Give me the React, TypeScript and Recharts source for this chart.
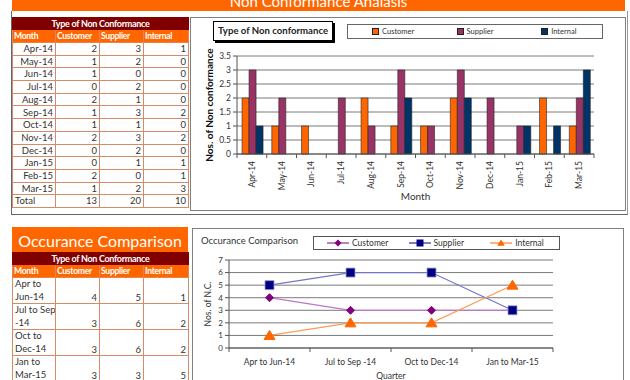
import React from "react";
import { BarChart, Bar, LineChart, Line, XAxis, YAxis, CartesianGrid, Label } from "recharts";

// ── Data ──────────────────────────────────────────────────────────────────────

const months = ["Apr-14", "May-14", "Jun-14", "Jul-14", "Aug-14", "Sep-14", "Oct-14", "Nov-14", "Dec-14", "Jan-15", "Feb-15", "Mar-15"];
const customerByMonth = [2, 1, 1, 0, 2, 1, 1, 2, 0, 0, 2, 1];
const supplierByMonth = [3, 2, 0, 2, 1, 3, 1, 3, 2, 1, 0, 2];
const internalByMonth = [1, 0, 0, 0, 0, 2, 0, 2, 0, 1, 1, 3];
const monthTicks = [0, 0.5, 1, 1.5, 2, 2.5, 3, 3.5];

const quarters = ["Apr to Jun-14", "Jul to Sep -14", "Oct to Dec-14", "Jan to Mar-15"];
const quarterRowLabels = [["Apr to", "Jun-14"], ["Jul to Sep", "-14"], ["Oct to", "Dec-14"], ["Jan to", "Mar-15"]];
const customerByQuarter = [4, 3, 3, 3];
const supplierByQuarter = [5, 6, 6, 3];
const internalByQuarter = [1, 2, 2, 5];
const quarterTicks = [0, 1, 2, 3, 4, 5, 6, 7];

const seriesNames = ["Customer", "Supplier", "Internal"];

// ── Styling ───────────────────────────────────────────────────────────────────

const ORANGE = "#FF6600";
const MAROON = "#800000";
const BAR_COLORS = ["#FF6600", "#993366", "#003366"];
const LINE_COLORS = ["#bb77cc", "#7474c8", "#ff9a55"];
const MARKER_COLORS = ["#800080", "#000080", "#FF6600"];
const FONT = "Lato, 'Open Sans', sans-serif";
const CELL_BORDER = "1px solid #d58c66";

const barData = months.map((m, i) => ({
    month: m,
    customer: customerByMonth[i],
    supplier: supplierByMonth[i],
    internal: internalByMonth[i],
}));

const lineData = quarters.map((q, i) => ({
    quarter: q,
    customer: customerByQuarter[i],
    supplier: supplierByQuarter[i],
    internal: internalByQuarter[i],
}));

const sum = (a: number[]) => a.reduce((s, v) => s + v, 0);

// chart geometry
const BAR_W = 434;
const BAR_H = 192;
const BAR_MARGIN = { top: 38, right: 31, left: 0, bottom: 0 };
const BAR_YW = 46;
const BAR_BAND = (BAR_W - BAR_MARGIN.left - BAR_MARGIN.right - BAR_YW) / months.length;

const LINE_W = 430;
const LINE_H = 151;
const LINE_MARGIN = { top: 31, right: 70, left: 0, bottom: 0 };
const LINE_YW = 36;
const LINE_BAND = (LINE_W - LINE_MARGIN.left - LINE_MARGIN.right - LINE_YW) / quarters.length;

// ── Ticks & markers ───────────────────────────────────────────────────────────

function MonthTick(props: any) {
    const { x, y, payload, index } = props;
    return (
        <g transform={`translate(${x},${y})`}>
            <line x1={-BAR_BAND / 2} x2={-BAR_BAND / 2} y1={-6} y2={-2} stroke="#555" />
            {index === months.length - 1 && (
                <line x1={BAR_BAND / 2} x2={BAR_BAND / 2} y1={-6} y2={-2} stroke="#555" />
            )}
            <text x={-1} y={0} dy="0.35em" textAnchor="end" transform="rotate(-90)" fontSize={8.5} fill="#333" fontFamily={FONT}>
                {payload.value}
            </text>
        </g>
    );
}

function QuarterTick(props: any) {
    const { x, y, payload, index } = props;
    return (
        <g transform={`translate(${x},${y})`}>
            <line x1={-LINE_BAND / 2} x2={-LINE_BAND / 2} y1={-6} y2={-2} stroke="#555" />
            {index === quarters.length - 1 && (
                <line x1={LINE_BAND / 2} x2={LINE_BAND / 2} y1={-6} y2={-2} stroke="#555" />
            )}
            <text x={0} y={11} textAnchor="middle" fontSize={8.5} fill="#333" fontFamily={FONT}>
                {payload.value}
            </text>
        </g>
    );
}

function diamondPath(cx: number, cy: number, r: number) {
    return `M${cx},${cy - r}L${cx + r},${cy}L${cx},${cy + r}L${cx - r},${cy}Z`;
}
function squarePath(cx: number, cy: number, r: number) {
    return `M${cx - r},${cy - r}H${cx + r}V${cy + r}H${cx - r}Z`;
}
function trianglePath(cx: number, cy: number, r: number) {
    return `M${cx},${cy - r}L${cx + r * 1.1},${cy + r * 0.8}L${cx - r * 1.1},${cy + r * 0.8}Z`;
}

function DiamondDot(props: any) {
    const { cx, cy, index } = props;
    return <path key={`c${index}`} d={diamondPath(cx, cy, 4)} fill={MARKER_COLORS[0]} stroke={MARKER_COLORS[0]} />;
}
function SquareDot(props: any) {
    const { cx, cy, index } = props;
    return <path key={`s${index}`} d={squarePath(cx, cy, 4.5)} fill={MARKER_COLORS[1]} stroke="#9a9ad6" strokeWidth={0.8} />;
}
function TriangleDot(props: any) {
    const { cx, cy, index } = props;
    return <path key={`i${index}`} d={trianglePath(cx, cy, 5)} fill={MARKER_COLORS[2]} stroke={MARKER_COLORS[2]} />;
}

// ── Tables ────────────────────────────────────────────────────────────────────

const cellBase: React.CSSProperties = {
    border: CELL_BORDER,
    padding: "0 2px",
    color: "#333",
    fontSize: 9.5,
    lineHeight: 1,
    whiteSpace: "nowrap",
    overflow: "hidden",
};

function TableHead() {
    const hd: React.CSSProperties = {
        ...cellBase,
        color: "#fff",
        fontWeight: 700,
        background: ORANGE,
        textAlign: "left",
        fontSize: 8.6,
        letterSpacing: -0.3,
        padding: "0 1px",
        border: "1px solid #e8834a",
    };
    return (
        <>
            <tr style={{ height: 12 }}>
                <td colSpan={4} style={{ ...hd, background: MAROON, textAlign: "center", fontSize: 9, border: `1px solid ${MAROON}` }}>
                    Type of Non Conformance
                </td>
            </tr>
            <tr style={{ height: 13 }}>
                <td style={hd}>Month</td>
                {seriesNames.map((s) => (
                    <td key={s} style={hd}>{s}</td>
                ))}
            </tr>
        </>
    );
}

const tableStyle: React.CSSProperties = {
    borderCollapse: "collapse",
    tableLayout: "fixed",
    width: 176,
    fontFamily: FONT,
    background: "#fff",
};

function MonthlyTable() {
    const num: React.CSSProperties = { ...cellBase, textAlign: "right" };
    return (
        <table style={{ ...tableStyle, position: "absolute", left: 12, top: 17 }}>
            <colgroup>
                <col style={{ width: 43 }} />
                <col style={{ width: 44 }} />
                <col style={{ width: 44 }} />
                <col style={{ width: 45 }} />
            </colgroup>
            <tbody>
                <TableHead />
                {months.map((m, i) => (
                    <tr key={m} style={{ height: 12.7 }}>
                        <td style={num}>{m}</td>
                        <td style={num}>{customerByMonth[i]}</td>
                        <td style={num}>{supplierByMonth[i]}</td>
                        <td style={num}>{internalByMonth[i]}</td>
                    </tr>
                ))}
                <tr style={{ height: 12.7 }}>
                    <td style={{ ...cellBase, textAlign: "left" }}>Total</td>
                    <td style={num}>{sum(customerByMonth)}</td>
                    <td style={num}>{sum(supplierByMonth)}</td>
                    <td style={num}>{sum(internalByMonth)}</td>
                </tr>
            </tbody>
        </table>
    );
}

function QuarterlyTable() {
    const num: React.CSSProperties = { ...cellBase, textAlign: "right", verticalAlign: "bottom", paddingBottom: 1 };
    return (
        <table style={{ ...tableStyle, position: "absolute", left: 12, top: 252 }}>
            <colgroup>
                <col style={{ width: 43 }} />
                <col style={{ width: 44 }} />
                <col style={{ width: 44 }} />
                <col style={{ width: 45 }} />
            </colgroup>
            <tbody>
                <TableHead />
                {quarterRowLabels.map((lbl, i) => (
                    <tr key={quarters[i]} style={{ height: 25.5 }}>
                        <td style={{ ...cellBase, textAlign: "left", lineHeight: "12.5px" }}>
                            {lbl[0]}
                            <br />
                            {lbl[1]}
                        </td>
                        <td style={num}>{customerByQuarter[i]}</td>
                        <td style={num}>{supplierByQuarter[i]}</td>
                        <td style={num}>{internalByQuarter[i]}</td>
                    </tr>
                ))}
            </tbody>
        </table>
    );
}

// ── Charts ────────────────────────────────────────────────────────────────────

function MonthlyBarChart() {
    return (
        <div style={{ position: "absolute", left: 190, top: 17, width: BAR_W, height: BAR_H, border: "1px solid #808080", background: "#fff" }}>
            <BarChart width={BAR_W} height={BAR_H} data={barData} margin={BAR_MARGIN} barCategoryGap="17%" barGap={0}>
                <CartesianGrid vertical={false} stroke="#7a7a7a" />
                <XAxis
                    dataKey="month"
                    height={56}
                    interval={0}
                    tickLine={false}
                    tickMargin={0}
                    stroke="#555"
                    tick={<MonthTick />}
                >
                    <Label value="Month" position="center" dy={14} fontSize={10} fill="#333" fontFamily={FONT} />
                </XAxis>
                <YAxis
                    width={BAR_YW}
                    domain={[0, 3.5]}
                    ticks={monthTicks}
                    interval={0}
                    tickSize={4}
                    tickMargin={2}
                    stroke="#555"
                    tick={{ fontSize: 8.5, fill: "#333", fontFamily: FONT }}
                >
                    <Label value="Nos. of Non conformance" angle={-90} position="center" dx={-5} fontSize={10} fontWeight={700} fill="#111" fontFamily={FONT} />
                </YAxis>
                <Bar dataKey="customer" name="Customer" fill={BAR_COLORS[0]} stroke="#222" strokeWidth={0.6} isAnimationActive={false} />
                <Bar dataKey="supplier" name="Supplier" fill={BAR_COLORS[1]} stroke="#222" strokeWidth={0.6} isAnimationActive={false} />
                <Bar dataKey="internal" name="Internal" fill={BAR_COLORS[2]} stroke="#222" strokeWidth={0.6} isAnimationActive={false} />
            </BarChart>

            {/* title box */}
            <div
                style={{
                    position: "absolute",
                    left: 22,
                    top: 3,
                    width: 118,
                    height: 18,
                    border: "1px solid #000",
                    boxShadow: "2px 2px 0 #000",
                    background: "#fff",
                    fontFamily: FONT,
                    fontSize: 9.6,
                    fontWeight: 700,
                    color: "#222",
                    lineHeight: "18px",
                    textAlign: "center",
                    whiteSpace: "nowrap",
                }}
            >
                Type of Non conformance
            </div>

            {/* legend */}
            <div
                style={{
                    position: "absolute",
                    left: 156,
                    top: 6,
                    width: 254,
                    height: 13,
                    border: "1px solid #666",
                    background: "#fff",
                    display: "flex",
                    fontFamily: FONT,
                    fontSize: 7.5,
                    color: "#333",
                }}
            >
                {seriesNames.map((s, i) => (
                    <div key={s} style={{ width: 84.6, paddingLeft: 24, display: "flex", alignItems: "center", boxSizing: "border-box" }}>
                        <span style={{ width: 5, height: 5, background: BAR_COLORS[i], border: "1px solid #222", marginRight: 3 }} />
                        {s}
                    </div>
                ))}
            </div>
        </div>
    );
}

function QuarterlyLineChart() {
    const dots = [DiamondDot, SquareDot, TriangleDot];
    const icons = [diamondPath, squarePath, trianglePath];
    const keys = ["customer", "supplier", "internal"];
    return (
        <div style={{ position: "absolute", left: 192, top: 228, width: LINE_W, height: 200, border: "1px solid #808080", background: "#fff" }}>
            <LineChart width={LINE_W} height={LINE_H} data={lineData} margin={LINE_MARGIN}>
                <CartesianGrid vertical={false} stroke="#7a7a7a" />
                <XAxis
                    dataKey="quarter"
                    scale="band"
                    height={32}
                    interval={0}
                    tickLine={false}
                    tickMargin={0}
                    stroke="#555"
                    tick={<QuarterTick />}
                >
                    <Label value="Quarter" position="center" dy={12} fontSize={8.5} fill="#333" fontFamily={FONT} />
                </XAxis>
                <YAxis
                    width={LINE_YW}
                    domain={[0, 7]}
                    ticks={quarterTicks}
                    interval={0}
                    tickSize={4}
                    tickMargin={2}
                    stroke="#555"
                    tick={{ fontSize: 8, fill: "#333", fontFamily: FONT }}
                >
                    <Label value="Nos. of N.C." angle={-90} position="center" dx={-3} fontSize={8.5} fill="#333" fontFamily={FONT} />
                </YAxis>
                {keys.map((k, i) => (
                    <Line
                        key={k}
                        dataKey={k}
                        name={seriesNames[i]}
                        type="linear"
                        stroke={LINE_COLORS[i]}
                        strokeWidth={1.2}
                        dot={dots[i]}
                        activeDot={false}
                        isAnimationActive={false}
                    />
                ))}
            </LineChart>

            {/* title */}
            <div style={{ position: "absolute", left: 8, top: 6, fontFamily: FONT, fontSize: 9.5, color: "#333", whiteSpace: "nowrap" }}>
                Occurance Comparison
            </div>

            {/* legend */}
            <div
                style={{
                    position: "absolute",
                    left: 120,
                    top: 7,
                    width: 245,
                    height: 12,
                    border: "1px solid #555",
                    background: "#fff",
                    display: "flex",
                    fontFamily: FONT,
                    fontSize: 8.5,
                    color: "#333",
                }}
            >
                {seriesNames.map((s, i) => (
                    <div key={s} style={{ width: 81.6, paddingLeft: 13, display: "flex", alignItems: "center", boxSizing: "border-box" }}>
                        <svg width={22} height={10} style={{ marginRight: 3 }}>
                            <line x1={0} x2={22} y1={5} y2={5} stroke={MARKER_COLORS[i]} strokeWidth={1} />
                            <path d={icons[i](11, 5, 3.5)} fill={MARKER_COLORS[i]} />
                        </svg>
                        {s}
                    </div>
                ))}
            </div>
        </div>
    );
}

// ── Page ──────────────────────────────────────────────────────────────────────

export default function App() {
    return (
        <div style={{ position: "absolute", left: 0, top: 0, width: 630, height: 380, overflow: "hidden", background: "#fff", fontFamily: FONT }}>
            {/* top banner (cut off at the top edge) */}
            <div style={{ position: "absolute", left: 12, top: 0, width: 613, height: 11, background: ORANGE, overflow: "hidden" }}>
                <div style={{ position: "absolute", left: 0, right: 0, top: -6, textAlign: "center", color: "#fff", fontSize: 15, lineHeight: "15px" }}>
                    Non Conformance Analasis
                </div>
            </div>

            {/* outer frame of the top block */}
            <div style={{ position: "absolute", left: 11, top: 11, width: 615, height: 203, borderLeft: "1px solid #666", borderBottom: "1px solid #666", borderRight: "1px solid #999" }} />

            <MonthlyTable />
            <MonthlyBarChart />

            {/* bottom block header */}
            <div
                style={{
                    position: "absolute",
                    left: 12,
                    top: 227,
                    width: 176,
                    height: 25,
                    background: ORANGE,
                    color: "#fff",
                    fontSize: 16,
                    lineHeight: "27px",
                    textAlign: "center",
                    whiteSpace: "nowrap",
                }}
            >
                Occurance Comparison
            </div>
            <QuarterlyTable />
            <QuarterlyLineChart />
        </div>
    );
}
